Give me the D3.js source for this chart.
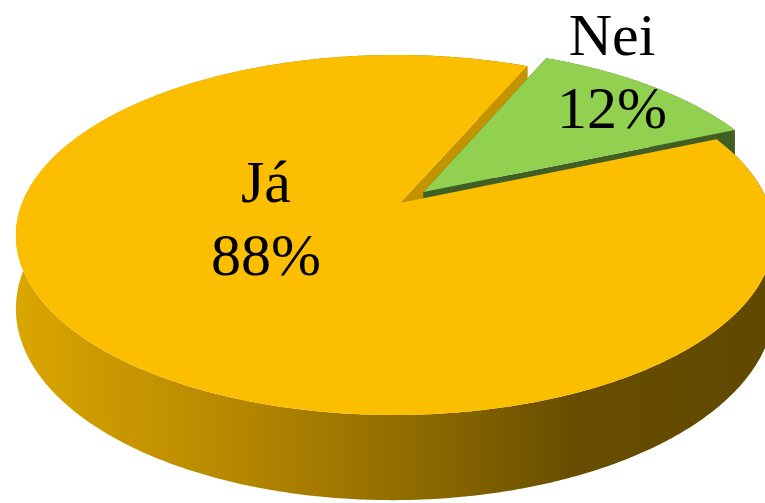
<!DOCTYPE html>
<html>
<head>
<meta charset="utf-8">
<script src="https://cdn.jsdelivr.net/npm/d3@7"></script>
<style>
html,body{margin:0;padding:0;background:#fff;}
svg{display:block;}
</style>
</head>
<body>
<svg id="chart" width="765" height="503"></svg>
<script>
// ---- data ----
const categories = ["Já", "Nei"];
const values = [88, 12];
const explode = [0, 0.09];

// ---- styles / layout ----
const topColors = ["#FBBE00", "#92D050"];
const wallColors = ["#C49300", "#3F5F24"];
const sideColors = [null, "#46682A"];
const cx = 400, cy = 203, A = 373, B = 174.3, p = 0.1777, q = 0.013, D = 70;
const startDeg = 66.7;

const svg = d3.select("#chart");
const defs = svg.append("defs");
const grad = defs.append("linearGradient").attr("id", "sideGrad")
  .attr("gradientUnits", "userSpaceOnUse").attr("x1", 15).attr("x2", 765).attr("y1", 0).attr("y2", 0);
[[0, "#DAA600"], [0.3, "#B58700"], [0.55, "#8C6900"], [0.75, "#664D00"], [1, "#614900"]]
  .forEach(s => grad.append("stop").attr("offset", s[0]).attr("stop-color", s[1]));

function proj(u, v, h) {
  const w = 1 - p * v + q * u;
  return [cx + A * u / w, cy + B * v / w + h * D / w];
}
function pt(theta, r, off, h) {
  const u = off[0] + r * Math.sin(theta), v = off[1] - r * Math.cos(theta);
  return proj(u, v, h);
}

const s0 = startDeg * Math.PI / 180;
const pie = d3.pie().sort(null).startAngle(s0).endAngle(s0 + 2 * Math.PI);
const arcs = pie(values);

const line = d3.line();
function arcPts(a, off, h) {
  const n = Math.max(8, Math.ceil((a.endAngle - a.startAngle) / (Math.PI / 360)));
  return d3.range(n + 1).map(i => pt(a.startAngle + (a.endAngle - a.startAngle) * i / n, 1, off, h));
}

const slices = arcs.map((a, i) => {
  const mid = (a.startAngle + a.endAngle) / 2;
  const off = [explode[i] * Math.sin(mid), -explode[i] * Math.cos(mid)];
  return {a, i, off, c0: proj(off[0], off[1], 0), c1: proj(off[0], off[1], 1),
          topArc: arcPts(a, off, 0), botArc: arcPts(a, off, 1)};
});
const gSide = svg.append("g"), gWall = svg.append("g"), gTop = svg.append("g");

[1, 0].forEach(k => {
  const s = slices[k];
  gSide.append("path").attr("d", line(s.topArc.concat(s.botArc.slice().reverse())) + "Z")
    .attr("fill", sideColors[k] ? sideColors[k] : "url(#sideGrad)");
});
[0, 1].forEach(k => {
  const s = slices[k];
  [s.a.startAngle, s.a.endAngle].forEach(t => {
    const o0 = pt(t, 1, s.off, 0), o1 = pt(t, 1, s.off, 1);
    gWall.append("path").attr("d", line([s.c0, o0, o1, s.c1]) + "Z").attr("fill", wallColors[k]);
  });
});
[1, 0].forEach(k => {
  const s = slices[k];
  gTop.append("path").attr("d", line([s.c0].concat(s.topArc)) + "Z").attr("fill", topColors[k]);
});

// ---- labels ----
const fmt = v => d3.format(".0%")(v / d3.sum(values));
const labelPos = [[266, 202], [612, 55]];
const lineGap = 73;
categories.forEach((c, i) => {
  const t = svg.append("text").attr("text-anchor", "middle")
    .attr("font-family", "'Liberation Serif','Times New Roman',serif")
    .attr("font-size", 60).attr("fill", "#000");
  t.append("tspan").attr("x", labelPos[i][0]).attr("y", labelPos[i][1]).text(c);
  t.append("tspan").attr("x", labelPos[i][0]).attr("y", labelPos[i][1] + lineGap).text(fmt(values[i]));
});
</script>
</body>
</html>
